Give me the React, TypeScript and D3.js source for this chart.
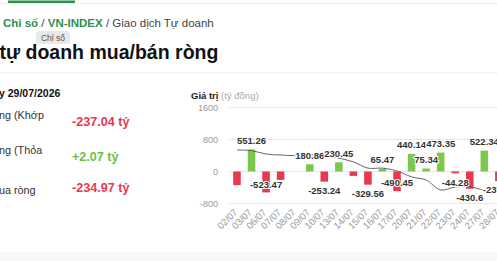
import React from 'react';
import * as d3 from 'd3';

// trading days shown on the x axis
const dates = ['02/07', '03/07', '06/07', '07/07', '08/07', '09/07', '10/07', '13/07', '14/07', '15/07',
  '16/07', '17/07', '20/07', '21/07', '22/07', '23/07', '24/07', '27/07', '28/07'];
// net buy/sell of proprietary traders (tỷ đồng), null = no trade
const netValues: (number | null)[] = [-340, 551.26, -523.47, -210, null, 180.86, -253.24, 230.45, -110, -329.56,
  65.47, -490.45, 440.14, 75.34, 473.35, -44.28, -430.6, 522.34, -237.04];
// VN-INDEX close, drawn on a hidden axis
const indexValues = [1560, 1558, 1547, 1544, 1542, 1544, 1544, 1534, 1522, 1502,
  1502, 1493, 1474, 1464, 1432, 1442, 1442, 1432, 1432];
const hiddenLabels = ['02/07', '07/07', '14/07'];
const yTicks = [1600, 800, 0, -800];

const summaryRows = [
  { label: 'ng (Khớp', value: '-237.04 tỷ', up: false },
  { label: 'ng (Thỏa', value: '+2.07 tỷ', up: true },
  { label: 'ua ròng', value: '-234.97 tỷ', up: false },
];

const W = 497;
const H = 261;
const FONT = '"Liberation Sans", Arial, Helvetica, sans-serif';
const GREEN = '#7cc84c';
const RED = '#e8394f';

const App: React.FC = () => {
  const step = 14.55;
  const x = d3.scaleBand<string>()
    .domain(dates)
    .range([229.7, 229.7 + dates.length * step])
    .paddingInner(0.48)
    .paddingOuter(0.24);
  const y = d3.scaleLinear().domain([-800, 1600]).range([203.5, 107.5]);
  const yIdx = d3.scaleLinear().domain([1400, 1560]).range([200, 150]);

  const cx = (d: string) => (x(d) ?? 0) + x.bandwidth() / 2;

  const line = d3.line<number>()
    .x((_, i) => cx(dates[i]))
    .y(v => yIdx(v))
    .curve(d3.curveCatmullRom.alpha(0.5));

  return (
    <div style={{ position: 'fixed', left: 0, top: 0, width: W, height: H, overflow: 'hidden', background: '#fff' }}>
      <svg width={W} height={H} style={{ display: 'block', fontFamily: FONT }}>
        {/* header */}
        <line x1={0} x2={W} y1={3.5} y2={3.5} stroke="#ececec" />
        <rect x={8} y={0.5} width={67} height={2.5} fill="#2f8f4f" />
        <text x={3} y={27} fontSize={11.5}>
          <tspan fill="#2f8f4f" fontWeight="bold">Chỉ số</tspan>
          <tspan fill="#444"> / </tspan>
          <tspan fill="#2f8f4f" fontWeight="bold">VN-INDEX</tspan>
          <tspan fill="#444"> / Giao dịch Tự doanh</tspan>
        </text>
        <rect x={36} y={31} width={34} height={13} rx={3} fill="#e9e9e9" />
        <text x={53} y={40.5} fontSize={8.5} fill="#555" textAnchor="middle">Chỉ số</text>
        <text x={-0.5} y={59} fontSize={19.5} fontWeight="bold" fill="#111">tự doanh mua/bán ròng</text>
        <line x1={0} x2={W} y1={72.5} y2={72.5} stroke="#f0f0f0" />

        {/* summary panel */}
        <text x={-1} y={97} fontSize={10.5} fontWeight="bold" fill="#111">y 29/07/2026</text>
        {summaryRows.map((r, i) => {
          const ly = [119, 154, 194][i];
          const vy = [126, 161, 192][i];
          return (
            <g key={r.label}>
              <text x={-1} y={ly} fontSize={10.8} fill="#333">{r.label}</text>
              <text x={72} y={vy} fontSize={12.6} fontWeight="bold" fill={r.up ? '#6cbf45' : RED}>{r.value}</text>
            </g>
          );
        })}

        {/* chart title */}
        <text x={191} y={98.5} fontSize={9.5}>
          <tspan fontWeight="bold" fill="#222">Giá trị</tspan>
          <tspan fill="#aaa"> (tỷ đồng)</tspan>
        </text>

        {/* grid + y axis */}
        {yTicks.map(t => (
          <g key={t}>
            <line x1={229} x2={W} y1={y(t)} y2={y(t)} stroke="#e6e6e6" />
            <text x={218} y={y(t) + 3.2} fontSize={9} fill="#999" textAnchor="end">{t}</text>
          </g>
        ))}

        {/* bars */}
        {dates.map((d, i) => {
          const v = netValues[i];
          if (v === null) return null;
          return (
            <rect key={d} x={x(d)} width={x.bandwidth()}
              y={Math.min(y(v), y(0))} height={Math.abs(y(v) - y(0))}
              fill={v >= 0 ? GREEN : RED} />
          );
        })}

        {/* index line */}
        <path d={line(indexValues) || ''} fill="none" stroke="#555" strokeWidth={0.9} />

        {/* value labels */}
        {dates.map((d, i) => {
          const v = netValues[i];
          if (v === null || hiddenLabels.includes(d)) return null;
          let ly: number;
          if (v >= 0) ly = y(v) - 9;
          else {
            const below = y(v) + 9;
            ly = below > 200 ? y(v) - 8 : below;
          }
          return (
            <text key={d} x={cx(d)} y={ly + 3.3} fontSize={9.5} fontWeight={600} fill="#333"
              textAnchor="middle" stroke="#fff" strokeWidth={2} paintOrder="stroke">
              {v}
            </text>
          );
        })}

        {/* x axis labels */}
        {dates.map(d => (
          <text key={d} transform={`translate(${cx(d) + 1},${213}) rotate(-45)`} fontSize={9.5} fill="#999"
            textAnchor="end">{d}</text>
        ))}

        <rect x={0} y={252} width={W} height={H - 252} fill="#f8f8f8" />
      </svg>
    </div>
  );
};

export default App;
